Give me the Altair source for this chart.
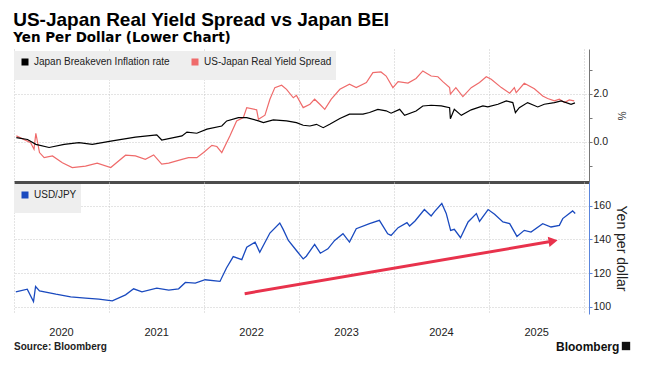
import altair as alt
import pandas as pd

# ---------------- data ----------------
bei_dates = ["2020-01-10", "2020-02-22", "2020-03-25", "2020-05-15", "2020-07-12", "2020-09-07",
             "2020-10-28", "2021-01-13", "2021-04-12", "2021-07-03", "2021-07-22", "2021-10-08",
             "2021-10-27", "2021-12-04", "2022-01-12", "2022-03-10", "2022-03-29", "2022-05-13",
             "2022-06-14", "2022-07-29", "2022-08-17", "2022-09-24", "2022-11-14", "2022-12-22",
             "2023-01-17", "2023-02-12", "2023-03-09", "2023-04-04", "2023-04-29", "2023-06-07",
             "2023-07-14", "2023-09-04", "2023-09-29", "2023-10-31", "2023-12-02", "2023-12-21",
             "2024-01-23", "2024-02-11", "2024-03-26", "2024-04-21", "2024-05-23", "2024-07-01",
             "2024-08-02", "2024-08-05", "2024-08-20", "2024-09-16", "2024-10-24", "2024-12-08",
             "2024-12-27", "2025-02-04", "2025-03-08", "2025-04-02", "2025-04-12", "2025-04-27",
             "2025-05-29", "2025-07-07", "2025-08-01", "2025-09-09", "2025-10-05", "2025-11-12",
             "2025-11-27"]
bei_values = [0.18, 0.10, -0.10, -0.23, -0.10, -0.03,
              -0.10, 0.04, 0.20, 0.29, 0.08, 0.25,
              0.41, 0.36, 0.53, 0.66, 0.87, 1.01,
              1.01, 0.87, 0.80, 0.91, 0.87, 0.80,
              0.69, 0.66, 0.73, 0.59, 0.73, 0.97,
              1.15, 1.15, 1.22, 1.35, 1.29, 1.19,
              1.35, 1.10, 1.28, 1.49, 1.52, 1.49,
              1.42, 0.96, 1.35, 1.10, 1.33, 1.49,
              1.45, 1.56, 1.70, 1.63, 1.21, 1.42,
              1.63, 1.45, 1.56, 1.63, 1.70, 1.56,
              1.62]

spread_dates = ["2020-01-10", "2020-03-05", "2020-03-18", "2020-03-25", "2020-04-08", "2020-04-26",
                "2020-05-28", "2020-07-05", "2020-08-12", "2020-10-02", "2020-11-16", "2021-01-07",
                "2021-03-05", "2021-04-12", "2021-05-20", "2021-06-21", "2021-07-22", "2021-08-18",
                "2021-10-08", "2021-11-02", "2021-12-04", "2021-12-30", "2022-01-31", "2022-02-19",
                "2022-03-10", "2022-04-10", "2022-05-06", "2022-06-01", "2022-06-14", "2022-07-22",
                "2022-07-29", "2022-08-23", "2022-09-11", "2022-09-30", "2022-10-26", "2022-11-14",
                "2022-12-10", "2022-12-22", "2023-01-17", "2023-02-12", "2023-03-02", "2023-03-22",
                "2023-04-10", "2023-05-05", "2023-06-07", "2023-07-14", "2023-08-09", "2023-09-17",
                "2023-10-12", "2023-11-12", "2023-12-02", "2023-12-28", "2024-01-17", "2024-02-24",
                "2024-03-26", "2024-04-21", "2024-05-23", "2024-06-18", "2024-07-07", "2024-08-02",
                "2024-08-05", "2024-08-26", "2024-09-22", "2024-10-24", "2024-11-25", "2024-12-21",
                "2025-01-09", "2025-02-17", "2025-03-21", "2025-04-08", "2025-04-15", "2025-05-16",
                "2025-06-24", "2025-07-26", "2025-08-14", "2025-09-09", "2025-09-28", "2025-10-18",
                "2025-11-05", "2025-11-24"]
spread_values = [0.25, -0.03, -0.30, 0.36, -0.44, -0.65,
                 -0.58, -0.86, -1.06, -1.00, -0.88, -1.06,
                 -0.55, -0.58, -0.72, -0.54, -0.92, -0.88,
                 -0.72, -0.65, -0.65, -0.44, -0.14, -0.19,
                 -0.44, 0.25, 0.87, 1.01, 1.42, 1.33,
                 0.94, 1.11, 1.77, 2.25, 2.35, 2.18,
                 1.83, 1.93, 1.42, 1.56, 1.77, 1.56,
                 1.35, 1.77, 2.18, 2.39, 2.25, 2.46,
                 2.87, 2.90, 2.73, 2.25, 2.50, 2.44,
                 2.63, 2.94, 2.73, 2.70, 2.50, 2.25,
                 1.98, 2.25, 1.88, 2.25, 2.46, 2.70,
                 2.60, 2.25, 2.02, 2.25, 2.04, 2.43,
                 2.20, 1.90, 1.80, 1.70, 1.77, 1.63,
                 1.74, 1.70]

fx_dates = ["2020-01-08", "2020-02-21", "2020-03-16", "2020-03-24", "2020-04-08", "2020-06-10",
            "2020-08-06", "2020-10-02", "2020-11-22", "2021-01-13", "2021-03-05", "2021-04-05",
            "2021-05-07", "2021-07-03", "2021-08-18", "2021-09-25", "2021-10-21", "2021-11-28",
            "2022-01-05", "2022-03-03", "2022-03-28", "2022-04-23", "2022-05-26", "2022-06-14",
            "2022-07-16", "2022-08-03", "2022-09-11", "2022-10-19", "2022-11-01", "2022-11-21",
            "2022-12-22", "2023-01-17", "2023-01-29", "2023-03-02", "2023-03-24", "2023-04-22",
            "2023-05-18", "2023-06-19", "2023-07-14", "2023-08-09", "2023-09-29", "2023-11-06",
            "2023-12-08", "2023-12-21", "2024-01-17", "2024-02-20", "2024-03-01", "2024-03-22",
            "2024-04-27", "2024-05-23", "2024-06-05", "2024-07-03", "2024-07-20", "2024-08-06",
            "2024-08-20", "2024-09-13", "2024-10-12", "2024-11-13", "2024-11-25", "2024-12-28",
            "2025-01-22", "2025-02-23", "2025-03-21", "2025-04-18", "2025-05-16", "2025-06-11",
            "2025-07-26", "2025-08-27", "2025-09-28", "2025-10-11", "2025-11-18", "2025-11-28"]
fx_values = [108.8, 110.4, 103.0, 112.0, 109.4, 107.4,
             105.8, 105.0, 104.4, 103.4, 107.0, 110.6,
             108.8, 111.0, 109.8, 110.6, 114.4, 114.0,
             116.0, 115.0, 123.0, 129.8, 128.0, 135.4,
             138.4, 132.4, 143.8, 149.8, 146.0, 139.4,
             133.4, 128.4, 130.0, 137.0, 131.8, 134.4,
             139.4, 143.4, 138.4, 146.4, 149.4, 151.4,
             143.4, 142.4, 147.0, 150.0, 148.0, 151.0,
             157.8, 154.0, 156.6, 161.4, 155.5, 145.4,
             146.0, 141.0, 150.4, 155.4, 150.7, 157.8,
             155.0, 150.4, 149.4, 141.8, 145.4, 144.4,
             149.4, 147.4, 148.4, 152.4, 157.0, 155.4]

top_series = ["Japan Breakeven Inflation rate", "US-Japan Real Yield Spread"]
top_colors = ["#000000", "#ef6b6b"]
fx_series = ["USD/JPY"]
fx_colors = ["#1a4abf"]

arrow_dates = ["2022-06-06", "2025-08-19"]
arrow_values = [107.7, 138.6]
head_dates = ["2025-09-04"]
head_values = [139.0]

years = [2020, 2021, 2022, 2023, 2024, 2025, 2026]
top_ticks = [-1, 0, 1, 2, 3]
bottom_ticks = [100, 110, 120, 130, 140, 150, 160, 170]

title_text = "US-Japan Real Yield Spread vs Japan BEI"
subtitle_text = "Yen Per Dollar (Lower Chart)"
source_text = ["Source: Bloomberg"]
brand_text = ["Bloomberg"]

# ---------------- frames ----------------
top_df = pd.concat([
    pd.DataFrame({"date": spread_dates, "value": spread_values, "series": top_series[1]}),
    pd.DataFrame({"date": bei_dates, "value": bei_values, "series": top_series[0]}),
], ignore_index=True)
fx_df = pd.DataFrame({"date": fx_dates, "value": fx_values, "series": fx_series[0]})
arrow_df = pd.DataFrame({"date": arrow_dates, "value": arrow_values})
head_df = pd.DataFrame({"date": head_dates, "value": head_values})

# ---------------- style ----------------
W = 575
H_TOP = 133
H_BOT = 132
FONT = "Liberation Sans"
GRID = "#c9c9c9"
DASH = [1, 2]
ARROW = "#e8324c"

x_scale = alt.Scale(type="utc", domain=[alt.DateTime(year=2020, month=1, date=1, utc=True),
                                        alt.DateTime(year=2026, month=1, date=20, utc=True)])
year_vals = [alt.DateTime(year=y, month=1, date=1, utc=True) for y in years]

top_x_axis = alt.Axis(values=year_vals, labels=False, ticks=False, grid=True, gridDash=DASH,
                      gridColor=GRID, domain=True, domainColor="#4d4d4d", domainWidth=3, title=None)
top_y_axis = alt.Axis(orient="right", values=top_ticks, title="%", titleAngle=90, titleFontSize=10,
                      titleFont=FONT, titleFontWeight="normal", titleColor="#333", titlePadding=8,
                      labelExpr="(datum.value == 0 || datum.value == 2) ? format(datum.value, '.1f') : ''",
                      labelFont=FONT, labelFontSize=10.5, labelColor="#222", labelPadding=1,
                      tickSize=3, tickColor="#777", domainColor="#777",
                      grid=True, gridDash=DASH, gridColor=GRID,
                      gridOpacity={"condition": {"test": "datum.value == 0 || datum.value == 2", "value": 1},
                                   "value": 0})

bot_x_axis = alt.Axis(values=year_vals, labelExpr="utcFormat(datum.value, '%Y') == '2026' ? '' : utcFormat(datum.value, '%Y')",
                      labelOffset=47, labelFlush=False, labelOverlap=False, labelFont=FONT,
                      labelFontSize=11, labelColor="#222", labelPadding=12, ticks=False, domain=False,
                      grid=True, gridDash=DASH, gridColor=GRID, title=None)
bot_y_axis = alt.Axis(orient="right", values=bottom_ticks, title="Yen per dollar", titleAngle=90,
                      titleFontSize=14, titleFont=FONT, titleFontWeight="normal", titleColor="#222",
                      titlePadding=3,
                      labelExpr="datum.value % 20 == 0 ? format(datum.value, 'd') : ''",
                      labelFont=FONT, labelFontSize=10.5, labelColor="#222", labelPadding=1,
                      tickSize=3, tickColor="#5b86dd", domainColor="#5b86dd",
                      grid=True, gridDash=DASH, gridColor=GRID,
                      gridOpacity={"condition": {"test": "datum.value % 20 == 0", "value": 1}, "value": 0})


def legend_params():
    return alt.Legend(title=None, orient="none", legendX=0, legendY=2, direction="horizontal",
                      fillColor="#eeeeee", padding=4, symbolType="stroke", symbolSize=49,
                      symbolStrokeWidth=7, labelFont=FONT, labelFontSize=10, labelColor="#222",
                      columnPadding=7, labelOffset=2)


top = alt.Chart(top_df).mark_line(strokeWidth=1.2).encode(
    x=alt.X("date:T", scale=x_scale, axis=top_x_axis),
    y=alt.Y("value:Q", scale=alt.Scale(domain=[-1.66, 3.85], nice=False, zero=False), axis=top_y_axis),
    color=alt.Color("series:N", scale=alt.Scale(domain=top_series, range=top_colors),
                    legend=legend_params()),
).properties(width=W, height=H_TOP)

fx_line = alt.Chart(fx_df).mark_line(strokeWidth=1.3).encode(
    x=alt.X("date:T", scale=x_scale, axis=bot_x_axis),
    y=alt.Y("value:Q", scale=alt.Scale(domain=[95.6, 174.2], nice=False, zero=False), axis=bot_y_axis),
    color=alt.Color("series:N", scale=alt.Scale(domain=fx_series, range=fx_colors),
                    legend=legend_params()),
)
arrow = alt.Chart(arrow_df).mark_line(color=ARROW, strokeWidth=3).encode(x="date:T", y="value:Q")
head = alt.Chart(head_df).mark_point(shape="triangle-right", filled=True, size=110, angle=350.5,
                                     color=ARROW, opacity=1).encode(x="date:T", y="value:Q")
src = alt.Chart(pd.DataFrame({"t": source_text})).mark_text(
    align="left", baseline="middle", font=FONT, fontSize=10, fontWeight="bold", color="#222"
).encode(text="t:N", x=alt.value(0), y=alt.value(165))
brand = alt.Chart(pd.DataFrame({"t": brand_text})).mark_text(
    align="left", baseline="middle", font=FONT, fontSize=12, fontWeight="bold", color="#111"
).encode(text="t:N", x=alt.value(542), y=alt.value(165))
logo = alt.Chart(pd.DataFrame({"t": brand_text})).mark_square(
    size=70, color="#111", opacity=1
).encode(x=alt.value(612), y=alt.value(164))

bottom = alt.layer(fx_line, arrow, head, src, brand, logo).properties(width=W, height=H_BOT)

chart = alt.vconcat(top, bottom, spacing=0).resolve_scale(color="independent").properties(
    title=alt.TitleParams(text=title_text, subtitle=subtitle_text, anchor="start",
                          font=FONT, fontSize=19, fontWeight="bold", color="#000",
                          subtitleFont="DejaVu Sans", subtitleFontSize=13.5, subtitleFontWeight="bold",
                          subtitleColor="#000", subtitlePadding=1, offset=5),
    padding={"left": 5, "top": 2, "right": 5, "bottom": 5},
    background="white",
).configure_view(stroke=None)

chart.save("out.html", embed_options={"renderer": "svg", "actions": False})
